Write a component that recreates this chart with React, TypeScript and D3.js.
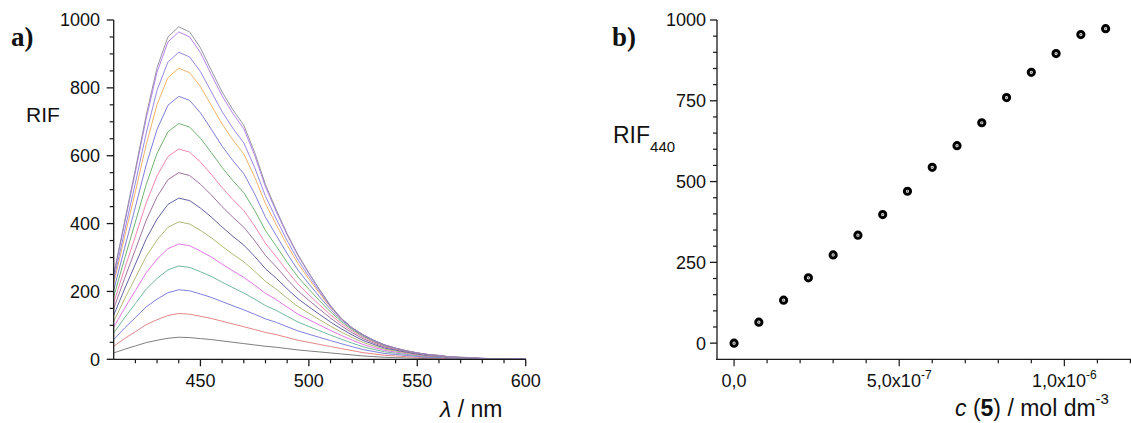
import React from "react";
import * as d3 from "d3";

// ---------- Panel a: fluorescence spectra ----------
const wavelengths = [
  410, 415, 420, 425, 430, 435, 440, 445, 450, 455, 460, 465, 470, 475, 480,
  485, 490, 495, 500, 505, 510, 515, 520, 525, 530, 535, 540, 545, 550, 555,
  560, 565, 570, 575, 580, 585, 590, 595, 600,
];
// highest spectrum
const topSpectrum = [
  250, 405, 560, 720, 860, 950, 980, 965, 918, 852, 788, 735, 690, 610, 515,
  440, 370, 308, 255, 205, 158, 120, 92, 72, 55, 42, 32, 24, 18, 14,
  10, 7, 5, 4, 3, 2, 2, 1, 1,
];
// lowest spectrum
const bottomSpectrum = [
  19, 30, 40, 50, 57, 63, 66, 65, 62, 59, 55, 51, 47, 43, 39,
  36, 32, 28, 25, 22, 19, 16, 13, 10, 8, 6, 5, 4, 3, 2,
  2, 1, 1, 1, 0, 0, 0, 0, 0,
];
// peak intensities at 440 nm of the 15 spectra
const spectrumPeaks = [65, 135, 205, 275, 340, 405, 475, 550, 620, 695, 775, 858, 905, 965, 980];
const spectrumColors = [
  "#707070", "#e07878", "#7070d8", "#62b092", "#e068e0", "#a8b066", "#50509a",
  "#946494", "#f078a8", "#62aa62", "#7070d4", "#f0aa58", "#8c7ce0", "#b274f0", "#8a8a9c",
];
const aXTicks = [450, 500, 550, 600];
const aYTicks = [0, 200, 400, 600, 800, 1000];

// ---------- Panel b: RIF440 vs concentration ----------
const concentrations = [
  0, 7.5e-8, 1.5e-7, 2.25e-7, 3.0e-7, 3.75e-7, 4.5e-7, 5.25e-7, 6.0e-7, 6.75e-7,
  7.5e-7, 8.25e-7, 9.0e-7, 9.75e-7, 1.05e-6, 1.125e-6,
];
const rif440 = [0, 65, 133, 202, 273, 334, 398, 470, 544, 611, 682, 760, 838, 896, 955, 973];
const bYTicks = [0, 250, 500, 750, 1000];
const bXTickLabels = [
  { v: 0, main: "0,0", exp: "" },
  { v: 5e-7, main: "5,0x10", exp: "-7" },
  { v: 1e-6, main: "1,0x10", exp: "-6" },
];

const FONT = "'Liberation Sans', Arial, sans-serif";
const SERIF = "'Liberation Serif', 'Times New Roman', serif";

export default function App() {
  // scales panel a
  const ax = d3.scaleLinear().domain([410, 600]).range([113.7, 525.7]);
  const ay = d3.scaleLinear().domain([0, 1000]).range([359.3, 20]);
  // scales panel b
  const bx = d3.scaleLinear().domain([-5.5e-8, 1.2e-6]).range([715.9, 1130.4]);
  const by = d3.scaleLinear().domain([-50, 1000]).range([359.3, 20]);

  const lowPeak = d3.max(bottomSpectrum) as number;
  const highPeak = d3.max(topSpectrum) as number;
  const spectra = spectrumPeaks.map((p) => {
    const t = (p - lowPeak) / (highPeak - lowPeak);
    return wavelengths.map((w, i) => ({
      w,
      v: p * ((1 - t) * (bottomSpectrum[i] / lowPeak) + t * (topSpectrum[i] / highPeak)),
    }));
  });
  const line = d3
    .line<{ w: number; v: number }>()
    .x((d) => ax(d.w))
    .y((d) => ay(d.v));

  const aMinorX = d3.range(420, 600, 10).filter((v) => v % 50 !== 0);
  const aMinorY = d3.range(50, 1000, 50).filter((v) => v % 200 !== 0);
  const bMinorY = d3.range(50, 1000, 50).filter((v) => v % 250 !== 0);
  const bXAll = d3.range(0, 13).map((i) => i * 1e-7);

  const axisStroke = "#1a1a1a";

  return (
    <svg
      width={1131}
      height={423}
      style={{ position: "absolute", left: 0, top: 0, background: "#fff" }}
      fontFamily={FONT}
    >
      <rect width={1131} height={423} fill="#fff" />
      {/* ---------- Panel a ---------- */}
      <g>
        {spectra.map((s, i) => (
          <path key={i} d={line(s) || ""} fill="none" stroke={spectrumColors[i]} strokeWidth={0.9} />
        ))}
        <line x1={ax(410)} x2={ax(410)} y1={ay(1000)} y2={ay(0)} stroke={axisStroke} strokeWidth={1.3} />
        <line x1={ax(410)} x2={ax(600)} y1={ay(0)} y2={ay(0)} stroke={axisStroke} strokeWidth={1.3} />
        {aXTicks.map((t) => (
          <g key={t}>
            <line x1={ax(t)} x2={ax(t)} y1={ay(0)} y2={ay(0) + 7} stroke={axisStroke} strokeWidth={1.3} />
            <text x={ax(t)} y={387} textAnchor="middle" fontSize={18} fill="#111">
              {t}
            </text>
          </g>
        ))}
        {aMinorX.map((t) => (
          <line key={t} x1={ax(t)} x2={ax(t)} y1={ay(0)} y2={ay(0) + 4} stroke={axisStroke} strokeWidth={1.2} />
        ))}
        {aYTicks.map((t) => (
          <g key={t}>
            <line x1={ax(410) - 7} x2={ax(410)} y1={ay(t)} y2={ay(t)} stroke={axisStroke} strokeWidth={1.3} />
            <text x={100} y={ay(t)} dy="0.36em" textAnchor="end" fontSize={18} fill="#111">
              {t}
            </text>
          </g>
        ))}
        {aMinorY.map((t) => (
          <line key={t} x1={ax(410) - 4} x2={ax(410)} y1={ay(t)} y2={ay(t)} stroke={axisStroke} strokeWidth={1.2} />
        ))}
        <text x={26} y={122} fontSize={21} fill="#111">
          RIF
        </text>
        <text x={440} y={417} fontSize={23} fill="#111">
          <tspan fontStyle="italic">λ</tspan>
          <tspan> / nm</tspan>
        </text>
        <text x={11} y={46} fontSize={27} fontWeight="bold" fontFamily={SERIF} fill="#111">
          a)
        </text>
      </g>

      {/* ---------- Panel b ---------- */}
      <g>
        <line x1={717} x2={717} y1={by(1000)} y2={by(-50)} stroke={axisStroke} strokeWidth={1.3} />
        <line x1={716} x2={1131} y1={by(-50)} y2={by(-50)} stroke={axisStroke} strokeWidth={1.3} />
        {bYTicks.map((t) => (
          <g key={t}>
            <line x1={710} x2={717} y1={by(t)} y2={by(t)} stroke={axisStroke} strokeWidth={1.3} />
            <text x={706} y={by(t)} dy="0.36em" textAnchor="end" fontSize={18} fill="#111">
              {t}
            </text>
          </g>
        ))}
        {bMinorY.map((t) => (
          <line key={t} x1={713} x2={717} y1={by(t)} y2={by(t)} stroke={axisStroke} strokeWidth={1.2} />
        ))}
        {bXAll.map((t, i) => (
          <line
            key={i}
            x1={bx(t)}
            x2={bx(t)}
            y1={by(-50)}
            y2={by(-50) + (i % 5 === 0 ? 7 : 4)}
            stroke={axisStroke}
            strokeWidth={1.2}
          />
        ))}
        {bXTickLabels.map((l) => (
          <text key={l.main} x={bx(l.v)} y={387} textAnchor="middle" fontSize={18} fill="#111">
            {l.main}
            {l.exp && (
              <tspan fontSize={12} dy={-8}>
                {l.exp}
              </tspan>
            )}
          </text>
        ))}
        {concentrations.map((c, i) => (
          <g key={i}>
            <circle cx={bx(c)} cy={by(rif440[i])} r={3.1} fill="#fff" stroke="#000" strokeWidth={3} />
            <circle cx={bx(c)} cy={by(rif440[i])} r={0.9} fill="#666" />
          </g>
        ))}
        <text x={613} y={143} fontSize={23} fill="#111">
          RIF
          <tspan fontSize={15} dy={9}>
            440
          </tspan>
        </text>
        <text x={955} y={416} fontSize={23} fill="#111">
          <tspan fontStyle="italic">c</tspan>
          <tspan> (</tspan>
          <tspan fontWeight="bold">5</tspan>
          <tspan>) / mol dm</tspan>
          <tspan fontSize={15} dy={-12}>
            -3
          </tspan>
        </text>
        <text x={612} y={46} fontSize={27} fontWeight="bold" fontFamily={SERIF} fill="#111">
          b)
        </text>
      </g>
    </svg>
  );
}
